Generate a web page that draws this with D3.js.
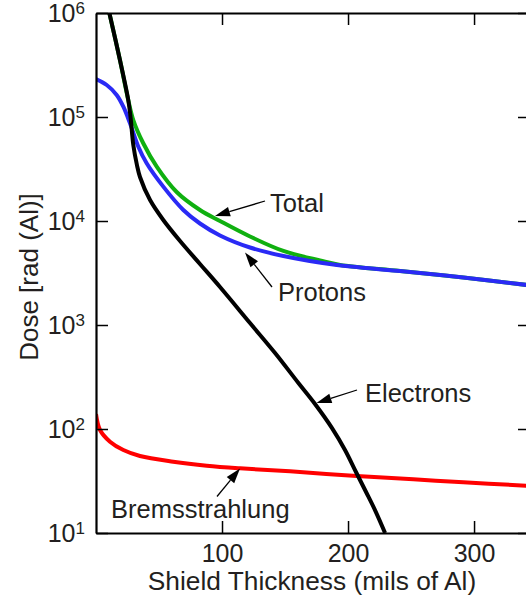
<!DOCTYPE html>
<html><head><meta charset="utf-8">
<script src="https://cdn.jsdelivr.net/npm/d3@7"></script>
<style>
html,body{margin:0;padding:0;background:#fff;}
svg{display:block;font-family:"Liberation Sans",Arial,Helvetica,sans-serif;}
</style></head>
<body>
<svg id="chart" width="526" height="596"></svg>
<script>
// Shield thickness (mils of Al) and dose (rad (Al))
const protonX = [0, 8.5, 16.4, 21.7, 27.0, 33.6, 40.2, 53.4, 69.3, 82.5, 98.4, 122.2, 148.7, 188.3, 241.3, 291.5, 341.3, 344.4];
const protonY = [231700, 203000, 163000, 125600, 86900, 51800, 35900, 21400, 12760, 9460, 7260, 5560, 4610, 3820, 3300, 2860, 2430, 2400];

const totalX = [10.6, 19.0, 25.6, 29.6, 37.5, 48.2, 64.0, 82.5, 98.4, 122.2, 148.7, 177.8, 193.7, 241.3, 291.5, 341.3, 344.4];
const totalY = [1000000, 353000, 145600, 93500, 55900, 33300, 19000, 12760, 10000, 7100, 5150, 4170, 3780, 3300, 2860, 2430, 2400];

const electronX = [10.6, 19.0, 25.6, 27.4, 29.6, 32.5, 34.9, 42.9, 53.4, 66.7, 82.5, 98.4, 122.2, 142.1, 160.3, 173.8, 187.3, 197.6, 206.3, 214.3, 221.4, 229.4];
const electronY = [1000000, 353000, 145600, 100000, 53800, 34500, 26500, 15900, 10230, 6420, 3860, 2320, 1045, 538, 280, 174, 102, 62.8, 38.6, 24.8, 16.6, 10];

const bremX = [0, 3.2, 11.1, 21.7, 34.9, 61.3, 87.9, 114.3, 154.0, 206.9, 251.8, 291.5, 341.3, 344.4];
const bremY = [139, 97.8, 75.5, 62.8, 55.0, 48.5, 44.4, 41.9, 39.2, 35.3, 32.8, 30.7, 28.5, 28.3];

const xTicks = [100, 200, 300];
const yTicks = [10, 100, 1000, 10000, 100000, 1000000];
const xTitle = "Shield Thickness (mils of Al)";
const yTitle = "Dose [rad (Al)]";

const seriesNames = ["Total", "Protons", "Electrons", "Bremsstrahlung"];

const svg = d3.select("#chart");
const mLeft = 96, mRight = 530, mTop = 13, mBottom = 533;

const x = d3.scaleLinear().domain([0, 344.4]).range([mLeft, mRight]);
const y = d3.scaleLog().domain([10, 1000000]).range([mBottom, mTop]);

svg.append("defs").append("clipPath").attr("id", "plot")
  .append("rect").attr("x", mLeft).attr("y", mTop).attr("width", mRight - mLeft).attr("height", mBottom - mTop);

const line = d3.line().x(d => x(d[0])).y(d => y(d[1])).curve(d3.curveCatmullRom.alpha(0.5));
const zip = (a, b) => a.map((v, i) => [v, b[i]]);

const g = svg.append("g").attr("clip-path", "url(#plot)");
g.append("path").attr("d", line(zip(bremX, bremY))).attr("fill", "none").attr("stroke", "#ff0000").attr("stroke-width", 4);
g.append("path").attr("d", line(zip(totalX, totalY))).attr("fill", "none").attr("stroke", "#10b010").attr("stroke-width", 4);
g.append("path").attr("d", line(zip(protonX, protonY))).attr("fill", "none").attr("stroke", "#2a2af5").attr("stroke-width", 4);
g.append("path").attr("d", line(zip(electronX, electronY))).attr("fill", "none").attr("stroke", "#000").attr("stroke-width", 4);

// axes with inward ticks
const tickLen = 12;
const axB = svg.append("g").attr("transform", `translate(0,${mBottom})`)
  .call(d3.axisBottom(x).tickValues(xTicks).tickSizeInner(-tickLen).tickSizeOuter(0).tickPadding(11).tickFormat(d3.format("d")));
const axT = svg.append("g").attr("transform", `translate(0,${mTop})`)
  .call(d3.axisTop(x).tickValues(xTicks).tickSizeInner(-tickLen).tickSizeOuter(0).tickFormat(""));
const axL = svg.append("g").attr("transform", `translate(${mLeft},0)`)
  .call(d3.axisLeft(y).tickValues(yTicks).tickSizeInner(-tickLen).tickSizeOuter(0).tickFormat(""));
const axR = svg.append("g").attr("transform", `translate(${mRight},0)`)
  .call(d3.axisRight(y).tickValues(yTicks).tickSizeInner(-tickLen).tickSizeOuter(0).tickFormat(""));
[axB, axT, axL, axR].forEach(a => {
  a.select(".domain").attr("stroke", "#000").attr("stroke-width", 2.2);
  a.selectAll(".tick line").attr("stroke", "#000").attr("stroke-width", 1.5);
});
axB.selectAll(".tick text").attr("font-size", 25).attr("fill", "#231f20").attr("font-family", "Liberation Sans, Arial, sans-serif");

// y tick labels as 10^n
yTicks.forEach(v => {
  const t = svg.append("text").attr("x", 85).attr("y", y(v) + 9).attr("text-anchor", "end")
    .attr("fill", "#231f20").attr("font-size", 25);
  t.append("tspan").text("10");
  t.append("tspan").attr("font-size", 17).attr("dy", -8).text(Math.round(Math.log10(v)));
});

// titles
svg.append("text").attr("x", 312).attr("y", 590).attr("text-anchor", "middle")
  .attr("font-size", 26.3).attr("fill", "#231f20").text(xTitle);
svg.append("text").attr("transform", "translate(38,277) rotate(-90)").attr("text-anchor", "middle")
  .attr("font-size", 26).attr("fill", "#231f20").text(yTitle);

// annotations
const labels = [
  {name: seriesNames[0], tx: 270, ty: 212, ax: [265, 201], tip: [215, 216]},
  {name: seriesNames[1], tx: 278, ty: 301, ax: [272, 287], tip: [245, 252.5]},
  {name: seriesNames[2], tx: 365, ty: 401.5, ax: [357, 390], tip: [316.5, 403]},
  {name: seriesNames[3], tx: 111, ty: 518, ax: [217, 496.5], tip: [240, 468.5]}
];
labels.forEach(l => {
  svg.append("text").attr("x", l.tx).attr("y", l.ty).attr("font-size", 25.5).attr("fill", "#231f20").text(l.name);
  const dx = l.tip[0] - l.ax[0], dy = l.tip[1] - l.ax[1];
  const len = Math.hypot(dx, dy), ux = dx / len, uy = dy / len;
  const hl = 15, hw = 4.8;
  const bx = l.tip[0] - ux * hl, by = l.tip[1] - uy * hl;
  svg.append("line").attr("x1", l.ax[0]).attr("y1", l.ax[1]).attr("x2", bx).attr("y2", by)
    .attr("stroke", "#000").attr("stroke-width", 1.3);
  svg.append("path").attr("d", `M${l.tip[0]},${l.tip[1]}L${bx - uy * hw},${by + ux * hw}L${bx + uy * hw},${by - ux * hw}Z`)
    .attr("fill", "#000");
});
</script>
</body></html>
